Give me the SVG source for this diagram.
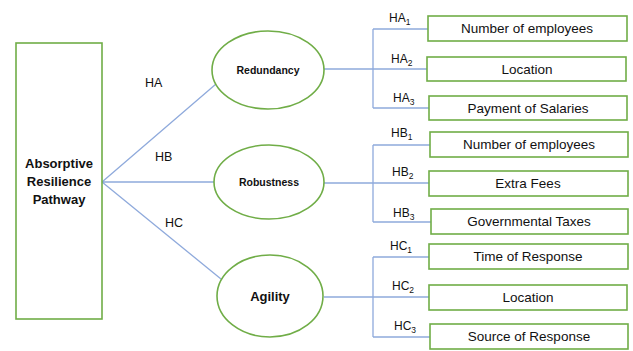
<svg xmlns="http://www.w3.org/2000/svg" width="633" height="351" viewBox="0 0 633 351">
<style>
.n{fill:#fff;stroke:#70AD47;stroke-width:1.6}
.c{fill:none;stroke:#8FAADC;stroke-width:1.3}
text{font-family:"Liberation Sans",Arial,sans-serif;fill:#111}
.b{font-weight:bold;text-anchor:middle}
.t{font-size:13.5px;text-anchor:middle}
.h{font-size:12px}
.s{font-size:8.5px}
.m{font-size:12.5px}
</style>
<rect width="633" height="351" fill="#fff"/>
<g id="connectors">
<path class="c" d="M102,182 L216,84 M102,182 L214,182 M102,182 L221,279"/>
<path class="c" d="M324,69 H373 M373,29 V108 M373,29 H428 M373,69 H427 M373,108 H429"/>
<path class="c" d="M324,183 H373 M373,145 V222 M373,145 H430 M373,183 H429 M373,222 H431"/>
<path class="c" d="M324,297 H373 M373,257 V337 M373,257 H429 M373,297 H429 M373,337 H430"/>
</g>
<g id="labels">
<text class="m" x="145" y="87">HA</text>
<text class="m" x="155" y="161">HB</text>
<text class="m" x="165" y="227">HC</text>
<text class="h" x="389" y="22">HA<tspan class="s" dy="3">1</tspan></text>
<text class="h" x="391" y="63">HA<tspan class="s" dy="3">2</tspan></text>
<text class="h" x="393" y="102">HA<tspan class="s" dy="3">3</tspan></text>
<text class="h" x="391" y="137">HB<tspan class="s" dy="3">1</tspan></text>
<text class="h" x="392" y="176">HB<tspan class="s" dy="3">2</tspan></text>
<text class="h" x="393" y="217">HB<tspan class="s" dy="3">3</tspan></text>
<text class="h" x="390" y="250">HC<tspan class="s" dy="3">1</tspan></text>
<text class="h" x="392" y="290">HC<tspan class="s" dy="3">2</tspan></text>
<text class="h" x="394" y="330">HC<tspan class="s" dy="3">3</tspan></text>
</g>
<g id="pathway">
<rect class="n" x="16" y="43" width="86" height="276"/>
<text class="b" font-size="13" x="59" y="168">Absorptive</text>
<text class="b" font-size="13" x="59" y="186">Resilience</text>
<text class="b" font-size="13" x="59" y="204">Pathway</text>
</g>
<g id="redundancy">
<ellipse class="n" cx="268" cy="70" rx="56" ry="39"/>
<text class="b" font-size="10.5" x="268" y="74">Redundancy</text>
</g>
<g id="robustness">
<ellipse class="n" cx="269" cy="182" rx="55" ry="37"/>
<text class="b" font-size="10.5" x="269" y="186">Robustness</text>
</g>
<g id="agility">
<ellipse class="n" cx="270" cy="296" rx="53" ry="41"/>
<text class="b" font-size="13" x="270" y="301">Agility</text>
</g>
<g id="ha1"><rect class="n" x="428" y="16" width="199" height="25"/><text class="t" x="527" y="33">Number of employees</text></g>
<g id="ha2"><rect class="n" x="427" y="57" width="199" height="24"/><text class="t" x="527" y="74">Location</text></g>
<g id="ha3"><rect class="n" x="429" y="96" width="198" height="24"/><text class="t" x="528" y="113">Payment of Salaries</text></g>
<g id="hb1"><rect class="n" x="430" y="132" width="198" height="25"/><text class="t" x="529" y="149">Number of employees</text></g>
<g id="hb2"><rect class="n" x="429" y="171" width="199" height="25"/><text class="t" x="528" y="188">Extra Fees</text></g>
<g id="hb3"><rect class="n" x="431" y="209" width="197" height="25"/><text class="t" x="529" y="226">Governmental Taxes</text></g>
<g id="hc1"><rect class="n" x="429" y="244" width="199" height="25"/><text class="t" x="528" y="261">Time of Response</text></g>
<g id="hc2"><rect class="n" x="429" y="285" width="198" height="25"/><text class="t" x="528" y="302">Location</text></g>
<g id="hc3"><rect class="n" x="430" y="324" width="198" height="25"/><text class="t" x="529" y="341">Source of Response</text></g>
</svg>
